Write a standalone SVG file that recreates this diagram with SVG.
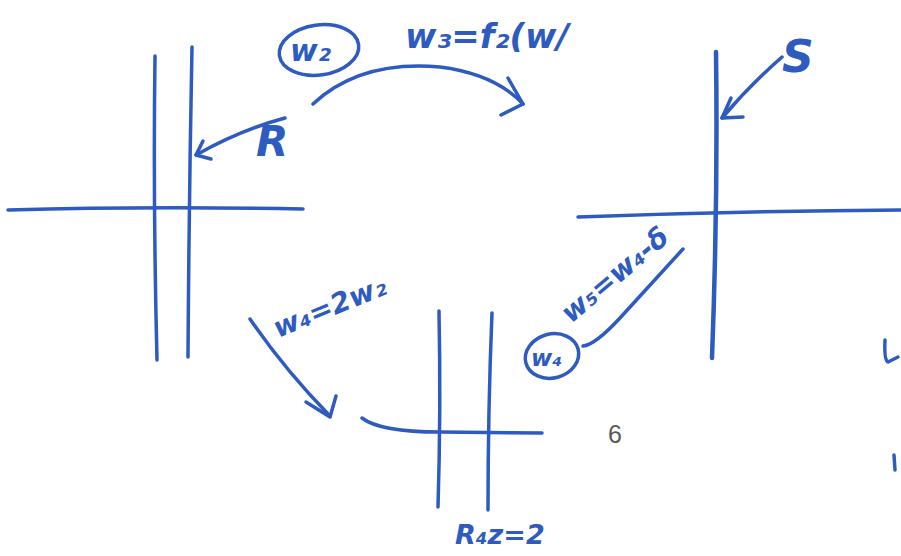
<svg xmlns="http://www.w3.org/2000/svg" width="901" height="556" viewBox="0 0 901 556">
  <defs>
    <style>
      .ink { fill: none; stroke: #2d5bc0; stroke-width: 3.5; stroke-linecap: round; stroke-linejoin: round; }
      .hand { fill: #2d5bc0; font-family: "DejaVu Sans", sans-serif; font-style: oblique; font-weight: bold; }
      .page { fill: #5a5a5a; font-family: "Liberation Sans", Arial, sans-serif; }
    </style>
  </defs>
  <rect width="901" height="556" fill="#ffffff"/>

  <!-- left axes: a double vertical line crossing a horizontal -->
  <g id="node-left">
    <path class="ink" d="M155,56 Q153,200 157,360"/>
    <path class="ink" d="M192,47 Q189,200 188,357"/>
    <path class="ink" d="M8,210 Q150,206 303,209"/>
  </g>

  <!-- right axes: single vertical line -->
  <g id="node-right">
    <path class="ink" style="stroke-width:4.5" d="M716,52 Q718,200 712,358"/>
    <path class="ink" d="M578,217 Q740,211 901,210"/>
  </g>

  <!-- bottom axes: double vertical line -->
  <g id="node-bottom">
    <path class="ink" d="M439,311 Q441,410 438,507"/>
    <path class="ink" d="M492,313 Q488,410 488,510"/>
    <path class="ink" d="M362,418 Q380,432 440,432 L542,433"/>
  </g>

  <!-- labels -->
  <g id="label-R">
    <text class="hand" x="256" y="156" font-size="42" font-weight="normal">R</text>
  </g>
  <g id="label-S">
    <text class="hand" x="782" y="72" font-size="44" font-weight="normal">S</text>
  </g>
  <g id="label-w2">
    <ellipse class="ink" cx="319" cy="50" rx="40" ry="25" transform="rotate(-8 319 50)"/>
    <text class="hand" x="290" y="61" font-size="30">w₂</text>
  </g>
  <g id="label-w3">
    <text class="hand" x="405" y="48" font-size="34">w₃=f₂(w/</text>
  </g>
  <g id="label-w4a">
    <text class="hand" x="278" y="338" font-size="28" transform="rotate(-22 278 338)">w₄=2w₂</text>
  </g>
  <g id="label-w4b">
    <ellipse class="ink" cx="552" cy="356" rx="27" ry="22" transform="rotate(-15 552 356)"/>
    <text class="hand" x="531" y="366" font-size="23">w₄</text>
  </g>
  <g id="label-w5">
    <text class="hand" x="571" y="324" font-size="28" transform="rotate(-40 571 324)">w₅=w₄-δ</text>
  </g>
  <g id="label-R4z">
    <text class="hand" x="455" y="544" font-size="27">R₄z=2</text>
  </g>
  <g id="page-number">
    <text class="page" x="608" y="443" font-size="25">6</text>
  </g>

  <!-- connectors -->
  <g id="connectors">
    <!-- R pointer -->
    <path class="ink" d="M285,118 Q240,130 196,155"/>
    <path class="ink" d="M203,141 L196,155 L211,159"/>
    <!-- S pointer -->
    <path class="ink" d="M782,57 Q750,85 722,118"/>
    <path class="ink" d="M731,98 L722,118 L743,117"/>
    <!-- top arc -->
    <path class="ink" d="M313,104 Q360,60 440,67 Q495,74 523,104"/>
    <path class="ink" d="M508,78 L523,104 L501,115"/>
    <!-- down-left arrow -->
    <path class="ink" d="M250,319 Q285,370 330,416"/>
    <path class="ink" d="M306,402 L330,417 L336,396"/>
    <!-- diagonal arrow up to right axes -->
    <path class="ink" d="M583,346 Q595,345 620,318 L683,249"/>
  </g>

  <!-- marks at the right edge -->
  <g id="edge-marks">
    <path class="ink" d="M885,340 Q884,360 888,362 L898,357"/>
    <path class="ink" d="M894,455 L895,470"/>
  </g>
</svg>
